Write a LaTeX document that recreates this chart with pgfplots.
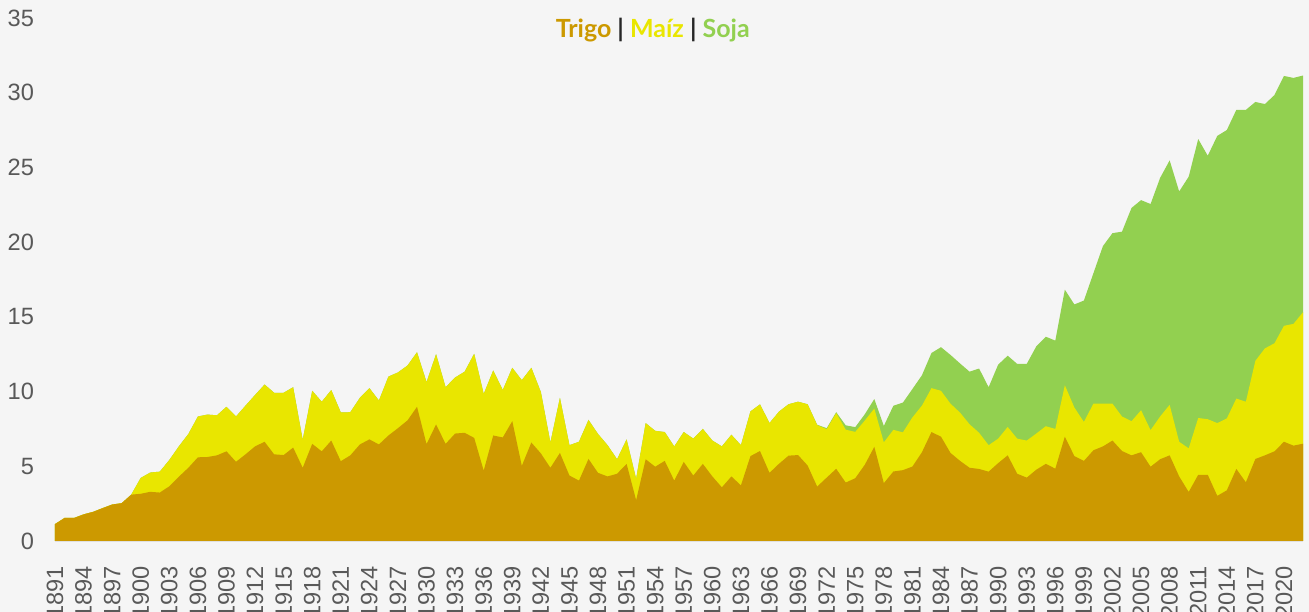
\documentclass[border=0pt]{standalone}
\usepackage{pgfplots}
\usepackage{pgfplotstable}
\pgfplotsset{compat=1.18}
\usepackage{fontspec}
\setmainfont{Liberation Sans}
\newfontfamily\titlefont{Lato}
\usetikzlibrary{backgrounds}
\definecolor{bgc}{HTML}{F5F5F5}
\definecolor{trigo}{HTML}{CC9900}
\definecolor{maiz}{HTML}{E9E600}
\definecolor{soja}{HTML}{92D050}
\definecolor{tickc}{HTML}{595959}

% year, trigo (T), trigo+maiz (M), trigo+maiz+soja (S)
\pgfplotstableread{
year T M S
1891 1.13 1.13 1.13
1892 1.54 1.54 1.54
1893 1.54 1.54 1.54
1894 1.78 1.78 1.78
1895 1.95 1.95 1.95
1896 2.20 2.20 2.20
1897 2.44 2.44 2.44
1898 2.53 2.53 2.53
1899 3.10 3.10 3.10
1900 3.16 4.22 4.22
1901 3.29 4.58 4.58
1902 3.24 4.64 4.64
1903 3.66 5.42 5.42
1904 4.30 6.33 6.33
1905 4.90 7.16 7.16
1906 5.60 8.33 8.33
1907 5.62 8.46 8.46
1908 5.73 8.41 8.41
1909 6.00 8.98 8.98
1910 5.30 8.33 8.33
1911 5.80 9.06 9.06
1912 6.33 9.77 9.77
1913 6.64 10.47 10.47
1914 5.80 9.92 9.92
1915 5.75 9.92 9.92
1916 6.25 10.29 10.29
1917 4.90 6.77 6.77
1918 6.50 10.05 10.05
1919 6.00 9.32 9.32
1920 6.72 10.10 10.10
1921 5.34 8.60 8.60
1922 5.73 8.62 8.62
1923 6.46 9.58 9.58
1924 6.80 10.23 10.23
1925 6.46 9.40 9.40
1926 7.06 11.00 11.00
1927 7.55 11.28 11.28
1928 8.07 11.74 11.74
1929 8.98 12.63 12.63
1930 6.48 10.63 10.63
1931 7.80 12.50 12.50
1932 6.50 10.29 10.29
1933 7.19 10.94 10.94
1934 7.24 11.33 11.33
1935 6.90 12.53 12.53
1936 4.71 9.84 9.84
1937 7.06 11.41 11.41
1938 6.93 10.10 10.10
1939 8.02 11.59 11.59
1940 5.03 10.76 10.76
1941 6.59 11.59 11.59
1942 5.86 9.97 9.97
1943 4.90 6.59 6.59
1944 5.89 9.58 9.58
1945 4.38 6.41 6.41
1946 4.04 6.64 6.64
1947 5.49 8.10 8.10
1948 4.56 7.16 7.16
1949 4.32 6.41 6.41
1950 4.50 5.47 5.47
1951 5.16 6.80 6.80
1952 2.73 4.17 4.17
1953 5.47 7.89 7.89
1954 4.97 7.37 7.37
1955 5.36 7.29 7.29
1956 4.04 6.33 6.33
1957 5.29 7.29 7.29
1958 4.38 6.85 6.85
1959 5.16 7.50 7.50
1960 4.32 6.72 6.72
1961 3.59 6.33 6.33
1962 4.32 7.11 7.11
1963 3.72 6.41 6.41
1964 5.68 8.67 8.67
1965 6.02 9.14 9.14
1966 4.56 7.89 7.89
1967 5.17 8.66 8.66
1968 5.71 9.15 9.15
1969 5.75 9.32 9.32
1970 5.05 9.15 9.15
1971 3.64 7.76 7.78
1972 4.24 7.48 7.55
1973 4.83 8.56 8.62
1974 3.91 7.45 7.74
1975 4.20 7.30 7.62
1976 5.10 8.06 8.48
1977 6.30 8.86 9.50
1978 3.87 6.60 7.70
1979 4.65 7.44 9.05
1980 4.74 7.27 9.26
1981 4.98 8.27 10.17
1982 5.94 9.06 11.09
1983 7.29 10.23 12.58
1984 6.98 10.05 12.97
1985 5.89 9.19 12.45
1986 5.36 8.59 11.88
1987 4.90 7.81 11.33
1988 4.82 7.24 11.54
1989 4.64 6.41 10.29
1990 5.21 6.85 11.80
1991 5.73 7.63 12.40
1992 4.50 6.85 11.85
1993 4.24 6.72 11.85
1994 4.77 7.19 13.02
1995 5.16 7.68 13.67
1996 4.84 7.50 13.41
1997 6.98 10.42 16.82
1998 5.68 8.93 15.83
1999 5.36 7.97 16.09
2000 6.07 9.19 17.92
2001 6.33 9.19 19.74
2002 6.72 9.19 20.60
2003 6.02 8.33 20.70
2004 5.73 8.02 22.29
2005 5.94 8.75 22.81
2006 4.97 7.42 22.55
2007 5.47 8.33 24.30
2008 5.73 9.11 25.47
2009 4.32 6.64 23.39
2010 3.28 6.20 24.38
2011 4.43 8.23 26.90
2012 4.43 8.15 25.78
2013 3.02 7.89 27.11
2014 3.39 8.20 27.50
2015 4.82 9.53 28.85
2016 3.93 9.32 28.85
2017 5.49 12.06 29.38
2018 5.73 12.89 29.24
2019 6.00 13.23 29.84
2020 6.64 14.40 31.12
2021 6.38 14.53 30.99
2022 6.51 15.31 31.15
}\datatable

\begin{document}
\begin{tikzpicture}
\begin{axis}[
  name=ax,
  scale only axis,
  width=624pt, height=261.5pt,
  xmin=1891, xmax=2022, ymin=0, ymax=35,
  axis x line*=bottom, axis y line*=left,
  x axis line style={draw=black!12, line width=0.8pt},
  y axis line style={draw=none},
  xtick={1891,1894,...,2020},
  ytick={0,5,...,35},
  major tick length=0pt,
  /pgf/number format/1000 sep={},
  /pgf/number format/assume math mode=true,
  ticklabel style={font=\fontsize{11.8}{12}\selectfont, text=tickc},
  xticklabel style={rotate=90, anchor=east, yshift=0pt, xshift=-9pt},
  yticklabel style={anchor=east, xshift=-7pt},
  clip=false,
]
\addplot[draw=none, fill=soja] table[x=year, y=S] {\datatable} \closedcycle;
\addplot[draw=none, fill=maiz] table[x=year, y=M] {\datatable} \closedcycle;
\addplot[draw=none, fill=trigo] table[x=year, y=T] {\datatable} \closedcycle;
\node[font=\titlefont\bfseries\fontsize{12.5}{14}\selectfont] at (rel axis cs:0.479,0.977)
  {\textcolor{trigo}{Trigo} \textcolor{black!85}{|} \textcolor{maiz}{Maíz} \textcolor{black!85}{|} \textcolor{soja}{Soja}};
\end{axis}
\pgfresetboundingbox
\path ([xshift=-27.5pt,yshift=-35.5pt]ax.south west) rectangle ([xshift=3pt,yshift=9pt]ax.north east);
\begin{pgfonlayer}{background}
\fill[bgc] ([xshift=-27.5pt,yshift=-35.5pt]ax.south west) rectangle ([xshift=3pt,yshift=9pt]ax.north east);
\end{pgfonlayer}
\end{tikzpicture}
\end{document}
